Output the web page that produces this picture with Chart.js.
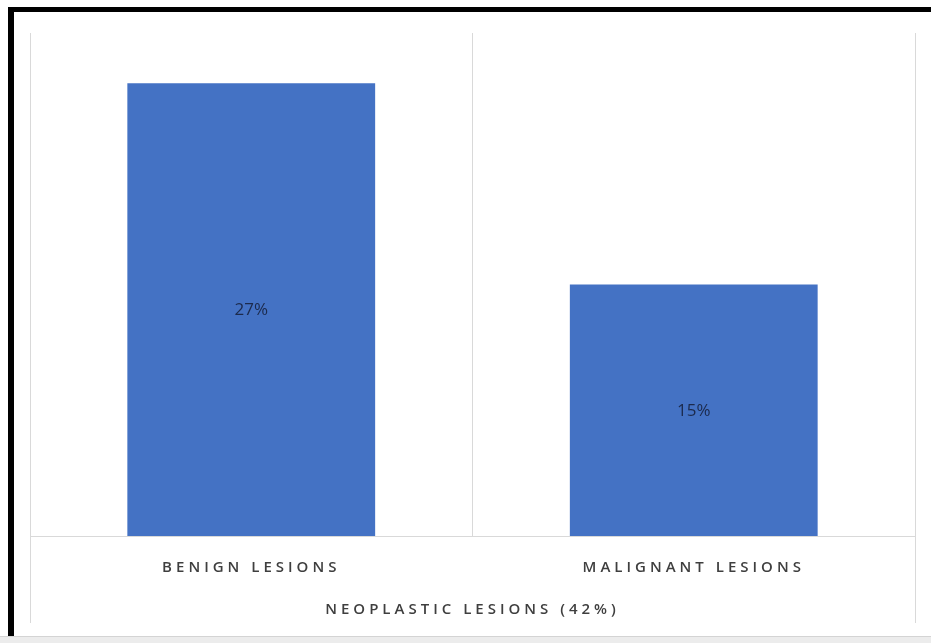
<!DOCTYPE html>
<html lang="en">
<head>
  <meta charset="UTF-8">
  <title>Neoplastic lesions</title>
  <script src="https://cdn.jsdelivr.net/npm/chart.js"></script>
  <style>
    * { margin: 0; padding: 0; box-sizing: border-box; }
    body {
      width: 931px;
      height: 643px;
      background: #fff;
      overflow: hidden;
      position: relative;
      font-family: "Open Sans", sans-serif;
    }
    .frame {
      position: absolute;
      left: 8px;
      top: 7px;
      width: 940px;
      height: 629px;
      border-left: 6px solid #000;
      border-top: 5px solid #000;
    }
    .chart-box {
      position: absolute;
      left: 0;
      top: 0;
      width: 917px;
      height: 624px;
    }
    .sheet {
      position: absolute;
      left: 0;
      top: 636px;
      width: 931px;
      height: 7px;
      background: #ececec;
      border-top: 1px solid #d4d4d4;
    }
  </style>
</head>
<body>
  <div class="frame">
    <div class="chart-box"><canvas id="lesionChart"></canvas></div>
  </div>
  <div class="sheet"></div>

  <script>
    // Data
    const categories = ['BENIGN LESIONS', 'MALIGNANT LESIONS'];
    const percentages = [27, 15];
    const groupLabel = 'NEOPLASTIC LESIONS (42%)';

    // Spaced-out capitals for the axis text
    const spacingPlugin = {
      id: 'spacing',
      beforeDraw(chart) {
        chart.ctx.letterSpacing = '4px';
      }
    };

    // Outer category lines run down past the axis, like the group bracket in Excel
    const groupLines = {
      id: 'groupLines',
      afterDraw(chart) {
        const { ctx, chartArea } = chart;
        ctx.save();
        ctx.strokeStyle = '#d9d9d9';
        ctx.lineWidth = 1;
        [chartArea.left, chartArea.right].forEach(x => {
          const px = Math.round(x) + 0.5;
          ctx.beginPath();
          ctx.moveTo(px, chartArea.bottom);
          ctx.lineTo(px, chartArea.bottom + 87);
          ctx.stroke();
        });
        ctx.restore();
      }
    };

    const valueLabels = {
      id: 'valueLabels',
      afterDatasetsDraw(chart) {
        const ctx = chart.ctx;
        const meta = chart.getDatasetMeta(0);
        ctx.save();
        ctx.letterSpacing = '0px';
        ctx.font = '17px "Open Sans", sans-serif';
        ctx.fillStyle = '#1c2a4c';
        ctx.textAlign = 'center';
        ctx.textBaseline = 'middle';
        meta.data.forEach((bar, i) => {
          const mid = (bar.y + bar.base) / 2;
          ctx.fillText(percentages[i] + '%', bar.x, mid + 1);
        });
        ctx.restore();
      }
    };

    new Chart(document.getElementById('lesionChart'), {
      type: 'bar',
      data: {
        labels: categories,
        datasets: [{
          data: percentages,
          backgroundColor: '#4472c4',
          borderWidth: 0,
          barPercentage: 0.56,
          categoryPercentage: 1
        }]
      },
      options: {
        responsive: true,
        maintainAspectRatio: false,
        animation: false,
        layout: {
          padding: { left: 16, right: 16, top: 21, bottom: 17 }
        },
        plugins: {
          legend: { display: false },
          tooltip: { enabled: false }
        },
        scales: {
          y: {
            display: false,
            min: 0,
            max: 30
          },
          x: {
            border: { display: true, color: '#d9d9d9', width: 1 },
            grid: {
              offset: true,
              color: '#d9d9d9',
              lineWidth: 1,
              drawTicks: false
            },
            ticks: {
              autoSkip: false,
              maxRotation: 0,
              padding: 23,
              color: '#3f3f3f',
              font: { family: '"Open Sans", sans-serif', size: 15, weight: '600' }
            },
            title: {
              display: true,
              text: groupLabel,
              color: '#3f3f3f',
              font: { family: '"Open Sans", sans-serif', size: 15, weight: '600' },
              padding: { top: 1, bottom: 0 }
            }
          }
        }
      },
      plugins: [spacingPlugin, groupLines, valueLabels]
    });
  </script>
</body>
</html>
